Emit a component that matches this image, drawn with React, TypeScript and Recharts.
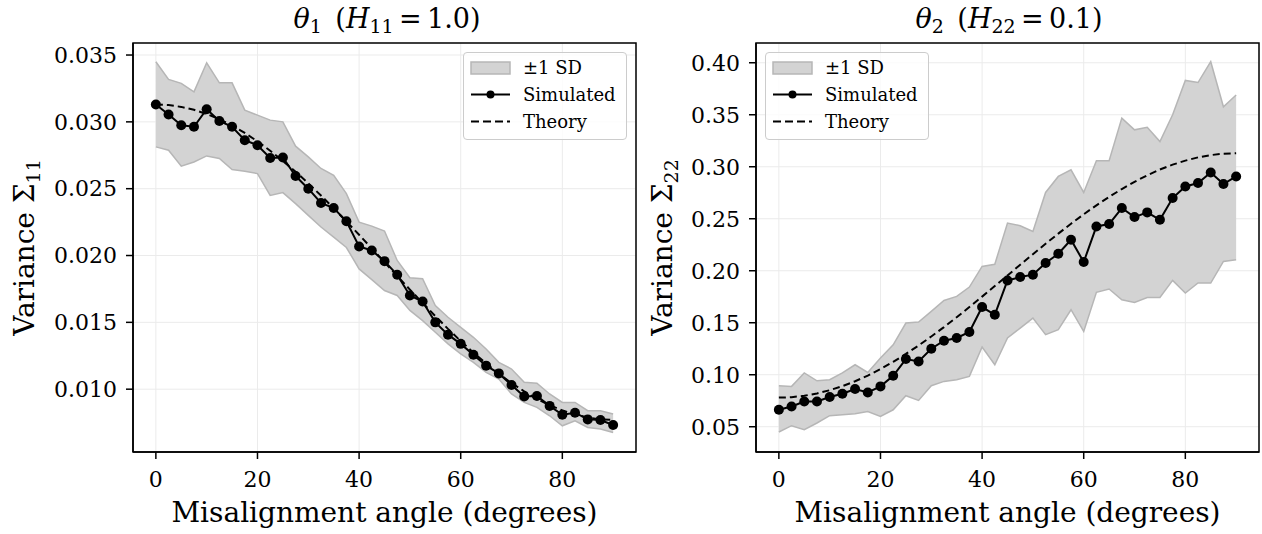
import React from 'react'
import { ComposedChart, Area, Line, XAxis, YAxis, CartesianGrid, Legend, ReferenceArea } from 'recharts'

const FONT = "'DejaVu Serif', serif"

const angles = [0, 2.5, 5, 7.5, 10, 12.5, 15, 17.5, 20, 22.5, 25, 27.5, 30, 32.5, 35, 37.5, 40, 42.5, 45, 47.5, 50, 52.5, 55, 57.5, 60, 62.5, 65, 67.5, 70, 72.5, 75, 77.5, 80, 82.5, 85, 87.5, 90]
const xTicks = [0, 20, 40, 60, 80]

// theta_1 panel
const sim11 = [0.0313, 0.03055, 0.02975, 0.02963, 0.03095, 0.03007, 0.02963, 0.02863, 0.02825, 0.0273, 0.02733, 0.02595, 0.025, 0.02393, 0.02355, 0.02256, 0.02068, 0.02038, 0.01958, 0.01856, 0.01701, 0.01656, 0.015, 0.01408, 0.01339, 0.01257, 0.01176, 0.01118, 0.01031, 0.00946, 0.00949, 0.00875, 0.00809, 0.00824, 0.00774, 0.00769, 0.00732]
const hi11 = [0.0345, 0.03318, 0.03288, 0.03225, 0.03442, 0.03292, 0.03292, 0.03088, 0.0305, 0.03013, 0.03, 0.02818, 0.02738, 0.02651, 0.026, 0.02463, 0.0225, 0.0222, 0.02183, 0.01963, 0.01834, 0.01826, 0.01626, 0.01538, 0.01463, 0.01388, 0.01301, 0.01201, 0.01151, 0.01051, 0.01044, 0.00964, 0.00901, 0.00901, 0.00839, 0.00839, 0.00814]
const lo11 = [0.02813, 0.02788, 0.02668, 0.027, 0.02745, 0.02726, 0.02643, 0.0263, 0.02613, 0.0245, 0.02471, 0.02388, 0.023, 0.02213, 0.02138, 0.0206, 0.019, 0.0182, 0.01738, 0.01701, 0.01589, 0.01513, 0.01426, 0.01339, 0.01264, 0.01201, 0.01126, 0.01076, 0.00964, 0.00901, 0.00864, 0.00801, 0.00726, 0.00764, 0.00714, 0.00702, 0.00676]
const theory11 = [0.0313, 0.03126, 0.03112, 0.0309, 0.03059, 0.0302, 0.02972, 0.02917, 0.02854, 0.02784, 0.02708, 0.02627, 0.0254, 0.02449, 0.02353, 0.02255, 0.02155, 0.02053, 0.0195, 0.01847, 0.01745, 0.01645, 0.01547, 0.01451, 0.0136, 0.01273, 0.01192, 0.01116, 0.01046, 0.00984, 0.00928, 0.0088, 0.00841, 0.0081, 0.00788, 0.00774, 0.0077]
const yTicks11 = [0.01, 0.015, 0.02, 0.025, 0.03, 0.035]

// theta_2 panel
const sim22 = [0.0663, 0.0695, 0.0743, 0.0743, 0.0786, 0.0817, 0.0862, 0.083, 0.0888, 0.099, 0.1151, 0.1128, 0.125, 0.1327, 0.1353, 0.1411, 0.1651, 0.1577, 0.1907, 0.1939, 0.1962, 0.2074, 0.2163, 0.2298, 0.2084, 0.2426, 0.2449, 0.2603, 0.2516, 0.2561, 0.249, 0.2699, 0.281, 0.2843, 0.2945, 0.2834, 0.2907]
const hi22 = [0.0894, 0.0888, 0.1017, 0.0942, 0.0952, 0.1017, 0.1096, 0.1022, 0.116, 0.1288, 0.1497, 0.1507, 0.1609, 0.1714, 0.1753, 0.1843, 0.2041, 0.2062, 0.2459, 0.2433, 0.2378, 0.2753, 0.2907, 0.2971, 0.2753, 0.3057, 0.3057, 0.3468, 0.3355, 0.338, 0.3242, 0.35, 0.383, 0.381, 0.401, 0.3577, 0.369]
const lo22 = [0.0449, 0.051, 0.0471, 0.0536, 0.0606, 0.0615, 0.0625, 0.0647, 0.0599, 0.0663, 0.0798, 0.0753, 0.0894, 0.0936, 0.0952, 0.0984, 0.1266, 0.1096, 0.1353, 0.1449, 0.1545, 0.1385, 0.1433, 0.1625, 0.1416, 0.1792, 0.1824, 0.1721, 0.1695, 0.1743, 0.1743, 0.1907, 0.1786, 0.1882, 0.1882, 0.2089, 0.2106]
const theory22 = [0.078, 0.0784, 0.0798, 0.082, 0.0851, 0.089, 0.0937, 0.0992, 0.1055, 0.1124, 0.12, 0.1281, 0.1368, 0.1458, 0.1553, 0.1651, 0.1751, 0.1853, 0.1955, 0.2057, 0.2159, 0.2259, 0.2357, 0.2452, 0.2543, 0.2629, 0.271, 0.2786, 0.2855, 0.2918, 0.2973, 0.302, 0.3059, 0.309, 0.3112, 0.3126, 0.313]
const yTicks22 = [0.05, 0.1, 0.15, 0.2, 0.25, 0.3, 0.35, 0.4]

const BAND_FILL = '#d3d3d3'
const BAND_EDGE = '#b6b6b6'
const PLOT_TOP = 43
const PLOT_BOTTOM = 452
const X_DOMAIN: [number, number] = [-4.5, 94.5]

function YLabel({ baseX, sub }: any) {
  const cy = (PLOT_TOP + PLOT_BOTTOM) / 2
  return (
    <text transform={`translate(${baseX},${cy}) rotate(-90)`} textAnchor="middle" fontFamily={FONT} fontSize={28} fill="#000">
      Variance Σ<tspan fontSize={19} dy={6}>{sub}</tspan>
    </text>
  )
}

function XLabel({ centerX }: any) {
  return (
    <text x={centerX} y={522} textAnchor="middle" fontFamily={FONT} fontSize={28} fill="#000">
      Misalignment angle (degrees)
    </text>
  )
}

function LegendBox() {
  return (
    <div style={{ width: 164, height: 88, boxSizing: 'border-box', border: '1px solid #cccccc', borderRadius: 4, background: 'rgba(255,255,255,0.8)' }}>
      <svg width={162} height={86} style={{ display: 'block' }}>
        <rect x={7} y={9} width={39} height={12} fill={BAND_FILL} stroke={BAND_EDGE} strokeWidth={1.5} />
        <line x1={7} x2={46} y1={41.5} y2={41.5} stroke="#000" strokeWidth={2} />
        <circle cx={26.5} cy={41.5} r={4} fill="#000" />
        <line x1={7} x2={46} y1={68.5} y2={68.5} stroke="#000" strokeWidth={2} strokeDasharray="8 4" />
        <g fontFamily={FONT} fontSize={18} fill="#000">
          <text x={59} y={21}>±1 SD</text>
          <text x={59} y={48}>Simulated</text>
          <text x={59} y={75}>Theory</text>
        </g>
      </svg>
    </div>
  )
}

function Title({ cx, sub, hsub, val }: any) {
  return (
    <text x={cx} y={28} textAnchor="middle" fontFamily={FONT} fontSize={27} fill="#000">
      <tspan fontStyle="italic">θ</tspan>
      <tspan fontSize={19} dy={5}>{sub}</tspan>
      <tspan dy={-5}>{'\u2002('}</tspan>
      <tspan fontStyle="italic">H</tspan>
      <tspan fontSize={19} dy={5}>{hsub}</tspan>
      <tspan dy={-5}>{'\u2009=\u2009' + val + ')'}</tspan>
    </text>
  )
}

type PanelProps = {
  sim: number[]
  lo: number[]
  hi: number[]
  theory: number[]
  yDomain: [number, number]
  yTicks: number[]
  decimals: number
  width: number
  yAxisWidth: number
  rightMargin: number
  sub: string
  labelX: number
  legendLeft: number
}

function Panel(p: PanelProps) {
  const data = angles.map((a, i) => ({ angle: a, band: [p.lo[i], p.hi[i]], sim: p.sim[i], theory: p.theory[i] }))
  const plotCx = p.yAxisWidth + (p.width - p.yAxisWidth - p.rightMargin) / 2
  const tickStyle = { fontFamily: FONT, fontSize: 22, fill: '#000' }
  return (
    <ComposedChart width={p.width} height={534} data={data} margin={{ top: PLOT_TOP, right: p.rightMargin, bottom: 0, left: 0 }}>
      <CartesianGrid stroke="#ebebeb" strokeWidth={1} />
      <XAxis
        type="number"
        dataKey="angle"
        domain={X_DOMAIN}
        ticks={xTicks}
        allowDataOverflow
        height={534 - PLOT_BOTTOM}
        tick={tickStyle}
        tickSize={7}
        tickMargin={12}
        axisLine={{ stroke: '#000', strokeWidth: 1.5 }}
        tickLine={{ stroke: '#000', strokeWidth: 1.5 }}
        label={<XLabel centerX={plotCx} />}
      />
      <YAxis
        type="number"
        domain={p.yDomain}
        ticks={p.yTicks}
        allowDataOverflow
        width={p.yAxisWidth}
        tick={tickStyle}
        tickSize={7}
        tickMargin={9}
        tickFormatter={(v: number) => v.toFixed(p.decimals)}
        axisLine={{ stroke: '#000', strokeWidth: 1.5 }}
        tickLine={{ stroke: '#000', strokeWidth: 1.5 }}
        label={<YLabel baseX={p.labelX} sub={p.sub} />}
      />
      <Area type="linear" dataKey="band" fill={BAND_FILL} fillOpacity={1} stroke={BAND_EDGE} strokeWidth={1.5} isAnimationActive={false} />
      <Line type="linear" dataKey="sim" stroke="#000" strokeWidth={2} dot={{ r: 5, fill: '#000', stroke: '#000', strokeWidth: 0 }} activeDot={false} isAnimationActive={false} />
      <Line type="linear" dataKey="theory" stroke="#000" strokeWidth={2} strokeDasharray="7 4" dot={false} activeDot={false} isAnimationActive={false} />
      <ReferenceArea x1={X_DOMAIN[0]} x2={X_DOMAIN[1]} y1={p.yDomain[0]} y2={p.yDomain[1]} fill="none" stroke="#000" strokeWidth={1.5} ifOverflow="visible" />
      <Legend
        layout="horizontal"
        align="center"
        verticalAlign="middle"
        content={() => <LegendBox />}
        wrapperStyle={{ left: p.legendLeft, top: 52, width: 164, height: 88 }}
      />
    </ComposedChart>
  )
}

export default function App() {
  return (
    <div style={{ position: 'absolute', left: 0, top: 0, width: 1262, height: 534, background: '#fff' }}>
      <div style={{ position: 'absolute', left: 0, top: 0 }}>
        <Panel sim={sim11} lo={lo11} hi={hi11} theory={theory11} yDomain={[0.0053, 0.0359]} yTicks={yTicks11} decimals={3}
          width={640} yAxisWidth={133} rightMargin={4} sub="11" labelX={34} legendLeft={463} />
      </div>
      <div style={{ position: 'absolute', left: 640, top: 0 }}>
        <Panel sim={sim22} lo={lo22} hi={hi22} theory={theory22} yDomain={[0.0257, 0.419]} yTicks={yTicks22} decimals={2}
          width={622} yAxisWidth={116} rightMargin={3} sub="22" labelX={32} legendLeft={125} />
      </div>
      <svg width={1262} height={40} style={{ position: 'absolute', left: 0, top: 0, pointerEvents: 'none' }}>
        <Title cx={387} sub="1" hsub="11" val="1.0" />
        <Title cx={1009} sub="2" hsub="22" val="0.1" />
      </svg>
    </div>
  )
}
